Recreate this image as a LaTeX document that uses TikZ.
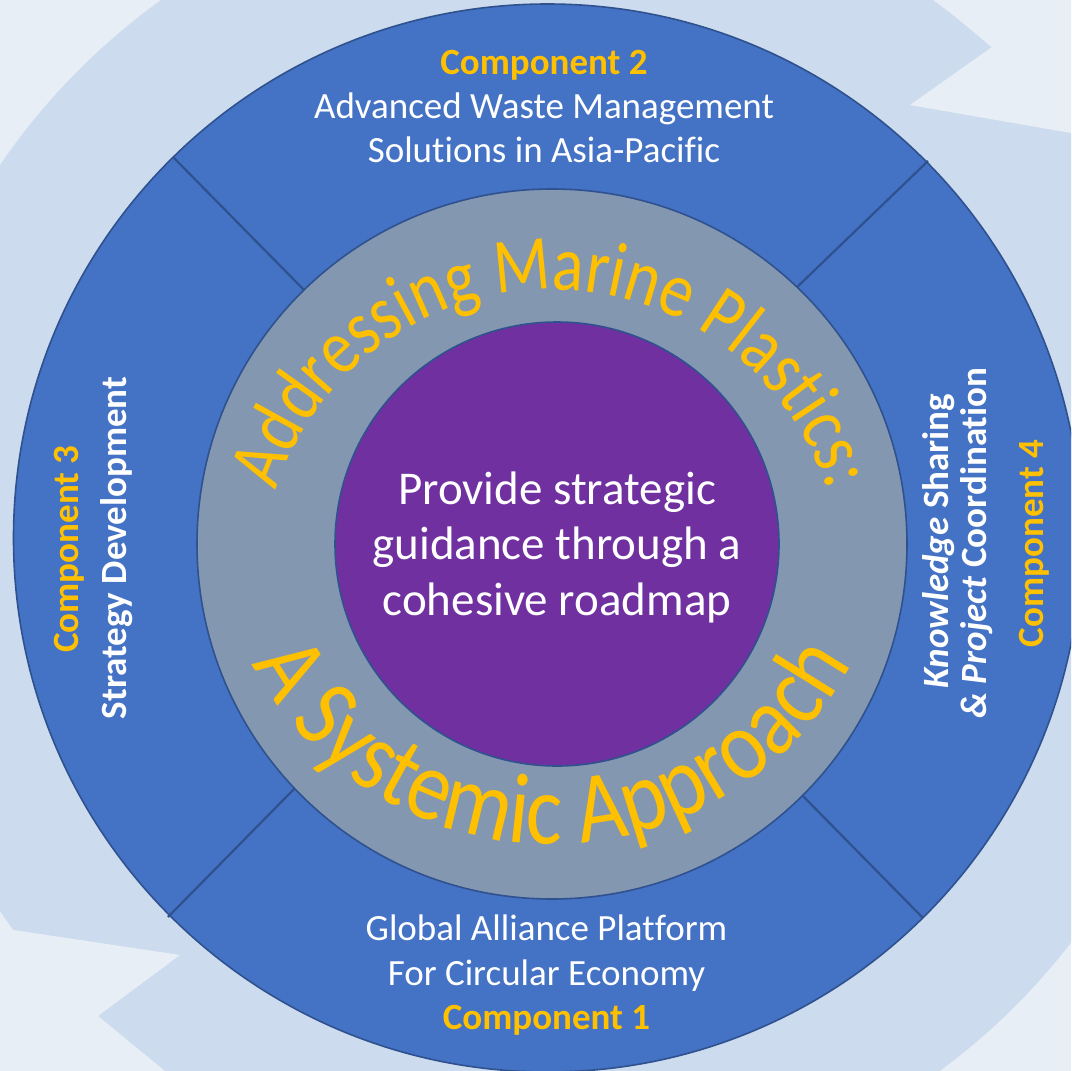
\documentclass[tikz,border=0pt]{standalone}
\usepackage{fontspec}
\setmainfont[Ligatures=NoCommon]{Carlito}
\newfontfamily\arcfontA[Ligatures=NoCommon,FakeStretch=0.84]{Carlito}
\newfontfamily\arcfontB[Ligatures=NoCommon,FakeStretch=0.86]{Carlito}
\usetikzlibrary{decorations.text}
\definecolor{bgLight}{HTML}{E8EEF6}
\definecolor{band}{HTML}{CCDBED}
\definecolor{ringBlue}{HTML}{4472C4}
\definecolor{edgeBlue}{HTML}{2F528F}
\definecolor{ringGray}{HTML}{8497B0}
\definecolor{corePurple}{HTML}{7030A0}
\definecolor{accent}{HTML}{FFC000}
\begin{document}
\begin{tikzpicture}[x=1pt,y=-1pt,
  body/.style={text=white, inner sep=0pt, anchor=base, font=\fontsize{37}{44}\selectfont},
  head/.style={text=accent, inner sep=0pt, anchor=base, font=\fontsize{37}{44}\selectfont\bfseries},
  side/.style={text=white, inner sep=0pt, anchor=base, rotate=90, font=\fontsize{37}{44}\selectfont\bfseries},
  sidehead/.style={side, text=accent},
  core/.style={text=white, inner sep=0pt, anchor=base, font=\fontsize{47}{56}\selectfont},
  divider/.style={draw=edgeBlue, line width=2.2pt},
  ring/.style={draw=edgeBlue, line width=1.6pt}]
\useasboundingbox (0,0) rectangle (1071,1071);
\clip (0,0) rectangle (1071,1071);
% background and circular arrows
\fill[bgLight] (0,0) rectangle (1071,1071);
\fill[band] (547,538) circle[radius=662];
\fill[bgLight] (935,0) -- (992,47) -- (910,105) -- (1071,133) -- (1071,0) -- cycle;
\fill[bgLight] (0,928) -- (180,955) -- (98,1016) -- (165,1071) -- (0,1071) -- cycle;
% outer ring
\filldraw[fill=ringBlue, ring] (547.5,538) circle[radius=534];
\coordinate (d1a) at (173,157); \coordinate (d1b) at (306,292);
\coordinate (d2a) at (928,161); \coordinate (d2b) at (794,290);
\coordinate (d3a) at (168,917); \coordinate (d3b) at (297,786);
\coordinate (d4a) at (923,918); \coordinate (d4b) at (799,792);
\draw[divider] (d1a) -- (d1b);
\draw[divider] (d2a) -- (d2b);
\draw[divider] (d3a) -- (d3b);
\draw[divider] (d4a) -- (d4b);
% middle ring and core
\filldraw[fill=ringGray, ring] (552,544) circle[radius=355];
\filldraw[fill=corePurple, ring] (557,544) circle[radius=222];
% curved titles
\path[decorate, decoration={text along path, text align=center, text color=accent,
  text={|\arcfontA\fontsize{78}{78}\selectfont|Addressing Marine Plastics:}}]
  (552,580) ++(190:290) arc[start angle=190, end angle=350, radius=290];
\path[decorate, decoration={text along path, text align=center, text color=accent,
  text={|\arcfontB\fontsize{100}{100}\selectfont|A Systemic Approach}}]
  (552,504) ++(160:340) arc[start angle=160, end angle=20, radius=340];
% core text
\node[core] (core1) at (557,504) {Provide strategic};
\node[core] (core2) at (557,559.5) {guidance through a};
\node[core] (core3) at (557,615) {cohesive roadmap};
% component 2 (top)
\node[head] (c2h) at (544,74) {Component 2};
\node[body] (c2a) at (544,118) {Advanced Waste Management};
\node[body] (c2b) at (544,162) {Solutions in Asia-Pacific};
% component 1 (bottom)
\node[body] (c1a) at (546.5,940) {Global Alliance Platform};
\node[body] (c1b) at (546.5,985) {For Circular Economy};
\node[head] (c1h) at (546.5,1029) {Component 1};
% component 3 (left)
\node[sidehead] (c3h) at (78,549) {Component 3};
\node[side] (c3a) at (126,548) {Strategy Development};
% component 4 (right)
\node[side] (c4a) at (948,541) {{\itshape Knowledge} Sharing};
\node[side] (c4b) at (986,543) {{\itshape\&~Project} Coordination};
\node[sidehead] (c4h) at (1043,543.5) {Component 4};
\end{tikzpicture}
\end{document}
